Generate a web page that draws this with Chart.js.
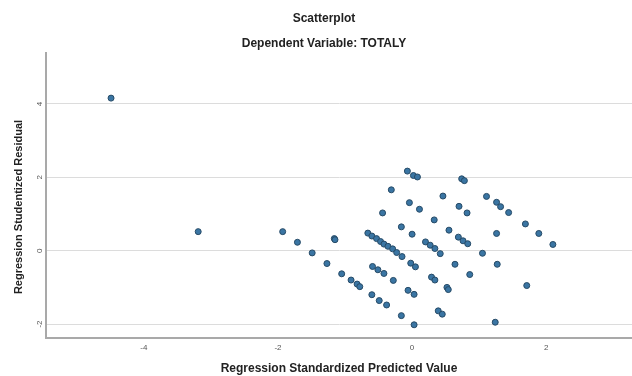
<!DOCTYPE html>
<html>
<head>
<meta charset="utf-8">
<title>Scatterplot</title>
<script src="https://cdn.jsdelivr.net/npm/chart.js@4.4.1/dist/chart.umd.min.js"></script>
<style>
  html, body { margin: 0; padding: 0; background: #fff; }
  #wrap { width: 632px; height: 376px; }
</style>
</head>
<body>
<div id="wrap"><canvas id="scatter" width="632" height="376"></canvas></div>
<script>
// titles
const chartTitle = "Scatterplot";
const chartSubtitle = "Dependent Variable: TOTALY";
const xTitle = "Regression Standardized Predicted Value";
const yTitle = "Regression Studentized Residual";

// tick labels shown on each axis
const xTicks = [-4, -2, 0, 2];
const yTicks = [-2, 0, 2, 4];

// points (predicted value, residual)
const predicted = [
  -4.49, -3.19,
  -1.93, -1.71, -1.49, -1.27, -1.16, -1.15, -1.05, -0.91, -0.82, -0.78, -0.60, -0.49, -0.38, -0.16, 0.03,
  -0.59, -0.51, -0.42, -0.28, -0.06, 0.03,
  -0.66, -0.60, -0.53, -0.47, -0.42, -0.36, -0.29, -0.23, -0.15, -0.02, 0.05,
  -0.44, -0.31, -0.16, 0.00, -0.04, 0.11, -0.07, 0.02, 0.08,
  0.33, 0.46, 0.20, 0.27, 0.34, 0.42, 0.29, 0.34, 0.39, 0.45, 0.52, 0.54,
  0.55, 0.64, 0.69, 0.76, 0.83, 0.70, 0.82, 0.74, 0.78, 0.86,
  1.05, 1.11, 1.26, 1.32, 1.44, 1.26, 1.27, 1.24, 1.69, 1.71, 1.89, 2.10
];
const residual = [
  4.16, 0.52,
  0.52, 0.23, -0.06, -0.35, 0.33, 0.30, -0.63, -0.80, -0.91, -0.98, -1.20, -1.36, -1.48, -1.77, -2.02,
  -0.43, -0.52, -0.62, -0.81, -1.08, -1.19,
  0.48, 0.40, 0.33, 0.25, 0.18, 0.12, 0.05, -0.05, -0.16, -0.34, -0.44,
  1.03, 1.66, 0.65, 0.45, 1.31, 1.13, 2.17, 2.05, 2.01,
  0.84, 1.49, 0.24, 0.15, 0.06, -0.08, -0.72, -0.80, -1.64, -1.73, -1.00, -1.06,
  0.56, -0.37, 0.37, 0.27, 0.19, 1.21, 1.03, 1.96, 1.91, -0.65,
  -0.07, 1.48, 1.32, 1.20, 1.04, 0.47, -0.37, -1.95, 0.73, -0.95, 0.47, 0.17
];

const points = predicted.map((x, i) => ({ x: x, y: residual[i] }));

const FONT = '"Liberation Sans", Arial, sans-serif';

// SPSS-like heading and y title (SPSS places them a little off the canvas middle)
const headingPlugin = {
  id: "heading",
  afterDraw(chart) {
    const ctx = chart.ctx;
    ctx.save();
    ctx.fillStyle = "#222";
    ctx.textAlign = "center";
    ctx.textBaseline = "middle";
    ctx.font = "bold 12px " + FONT;
    ctx.fillText(chartTitle, 324, 19);
    ctx.fillText(chartSubtitle, 324, 44);
    // y axis title, rotated
    ctx.font = "bold 11px " + FONT;
    ctx.translate(19, 207);
    ctx.rotate(-Math.PI / 2);
    ctx.fillText(yTitle, 0, 0);
    ctx.restore();
  }
};

new Chart(document.getElementById("scatter"), {
  type: "scatter",
  data: {
    datasets: [{
      label: "Residual",
      data: points,
      backgroundColor: "#3a75a3",
      borderColor: "#264a66",
      borderWidth: 1,
      pointRadius: 3,
    }],
  },
  options: {
    responsive: false,
    animation: false,
    layout: { autoPadding: false, padding: { top: 53, right: 0, bottom: 0, left: 0 } },
    plugins: {
      legend: { display: false },
      tooltip: { enabled: false },
    },
    scales: {
      x: {
        type: "linear",
        min: -5.46,
        max: 3.28,
        afterBuildTicks: (scale) => { scale.ticks = xTicks.map((v) => ({ value: v })); },
        afterFit: (scale) => { scale.height = 38; },
        grid: { display: false, drawTicks: false },
        border: { color: "#a9a9a9", width: 2 },
        ticks: {
          padding: 5,
          color: "#555",
          font: { family: FONT, size: 8 },
          callback: (v) => v,
        },
        title: {
          display: true,
          text: xTitle,
          color: "#222",
          font: { family: FONT, size: 12, weight: "bold" },
          padding: { top: 0, bottom: 0 },
        },
      },
      y: {
        type: "linear",
        min: -2.38,
        max: 5.39,
        afterBuildTicks: (scale) => { scale.ticks = yTicks.map((v) => ({ value: v })); },
        afterFit: (scale) => { scale.width = 46; },
        grid: { color: "#dcdcdc", lineWidth: 1, drawTicks: false },
        border: { color: "#a9a9a9", width: 2 },
        ticks: {
          padding: 3,
          color: "#555",
          minRotation: 90,
          maxRotation: 90,
          crossAlign: "center",
          font: { family: FONT, size: 8 },
          callback: (v) => v,
        },
        title: { display: false },
      },
    },
  },
  plugins: [headingPlugin],
});
</script>
</body>
</html>
